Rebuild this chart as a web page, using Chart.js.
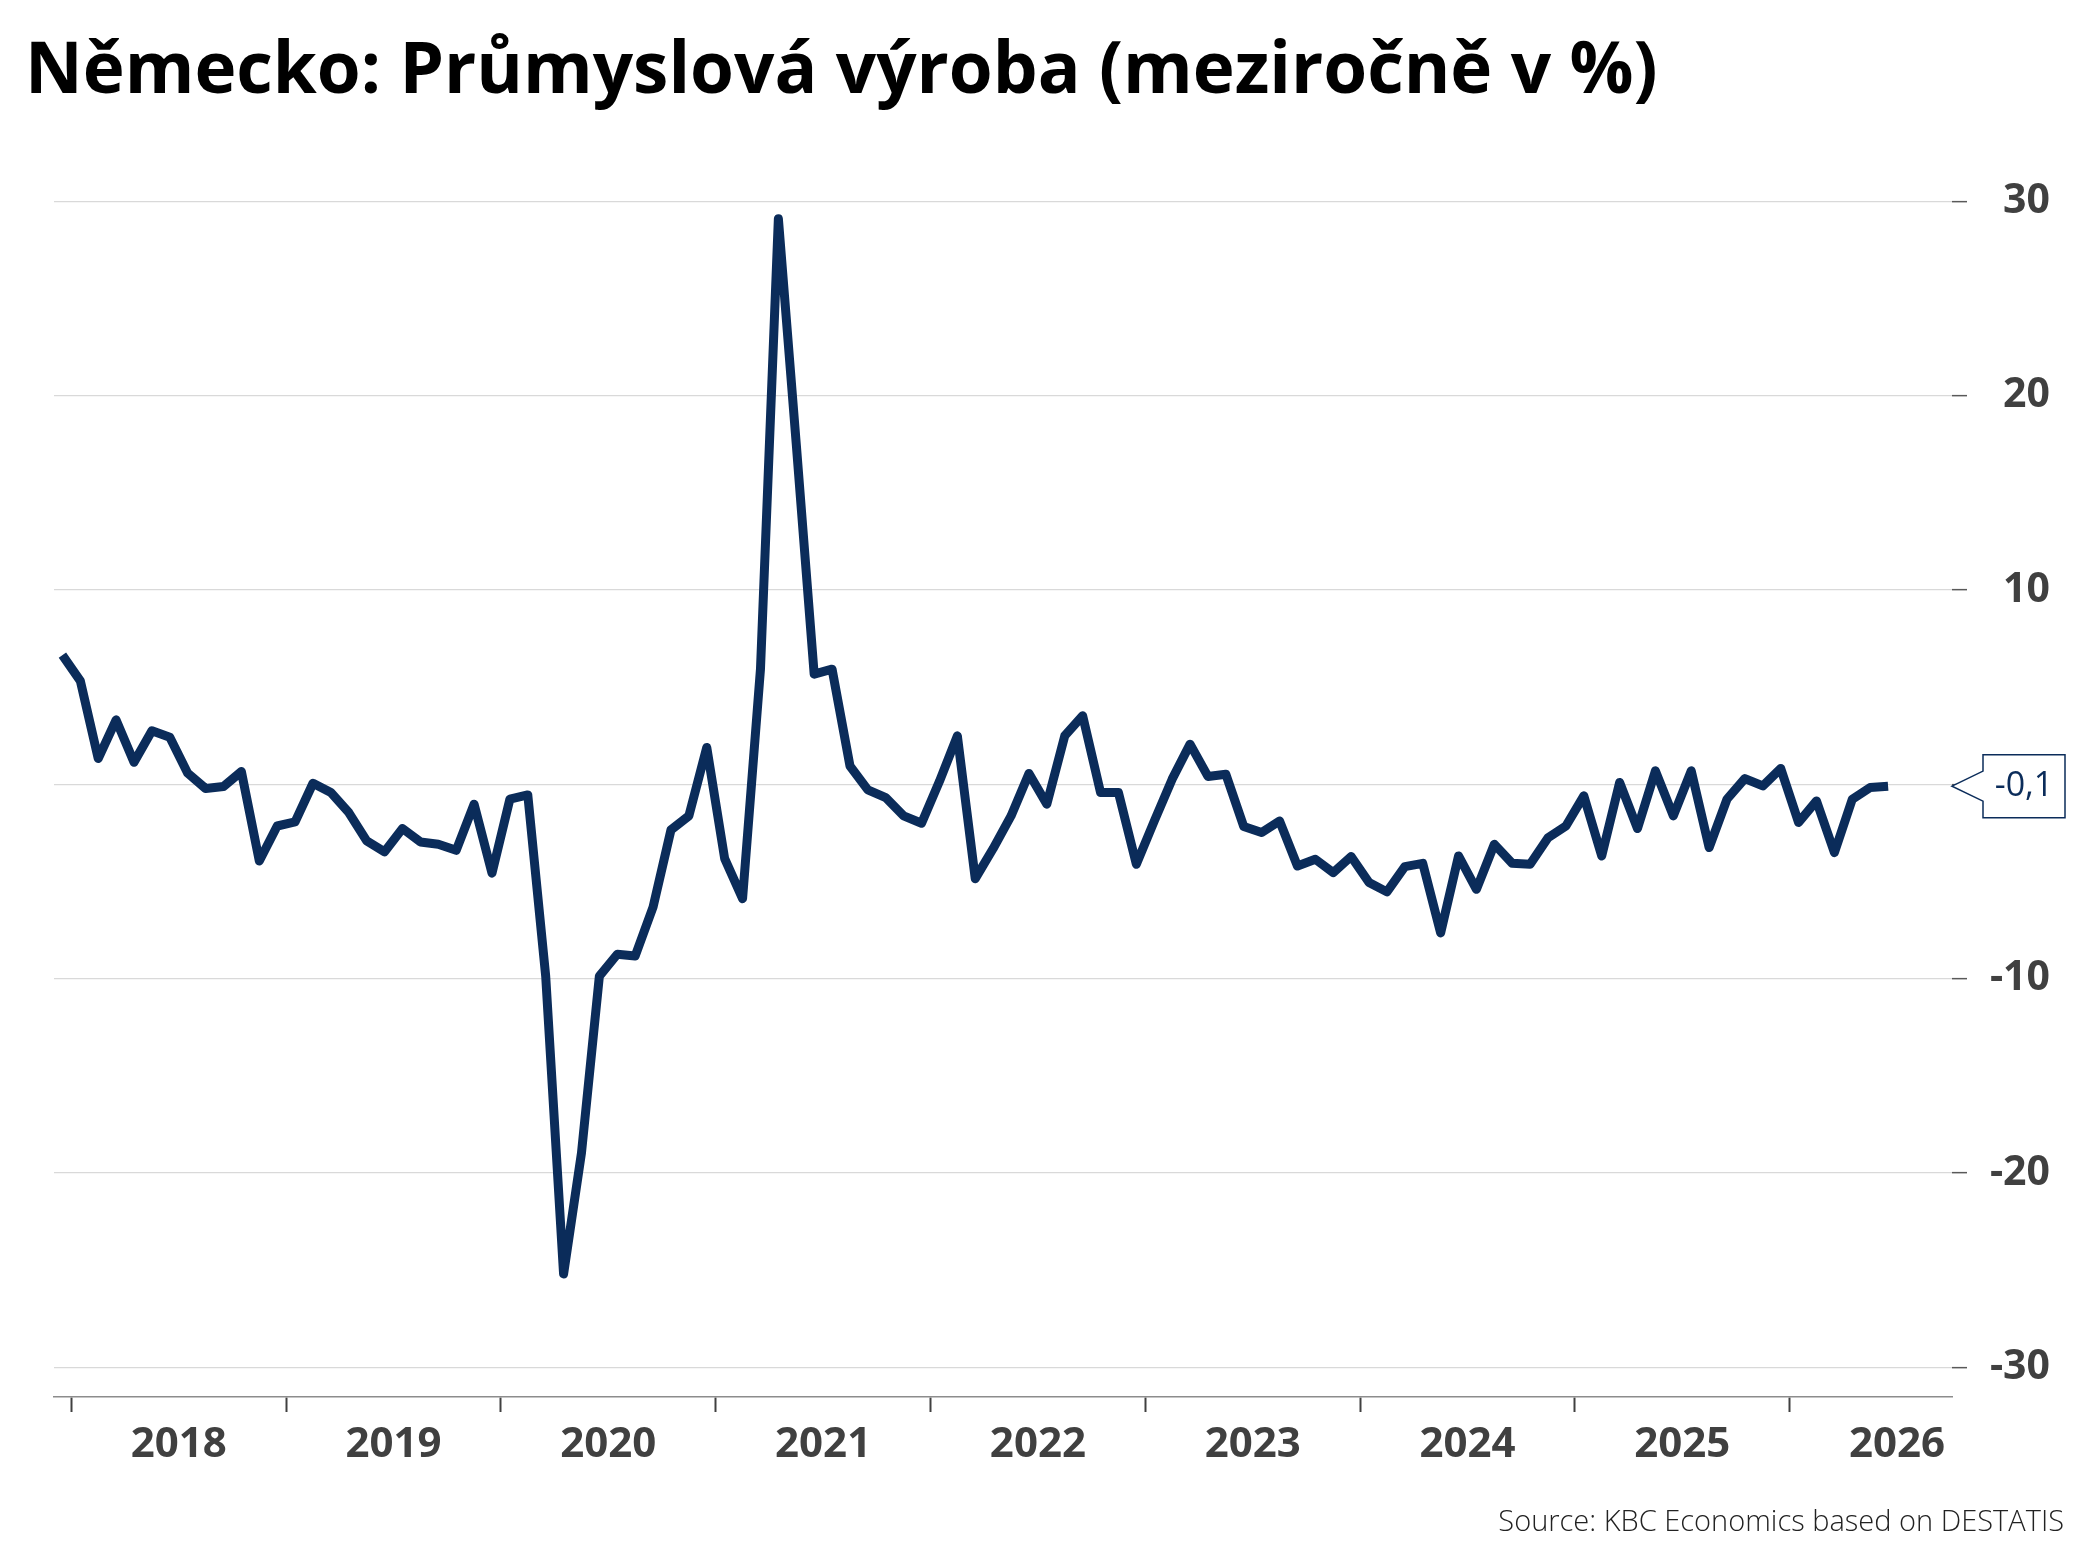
<!DOCTYPE html>
<html>
<head>
<meta charset="utf-8">
<script src="https://cdn.jsdelivr.net/npm/chart.js@4.4.1/dist/chart.umd.min.js"></script>
<style>
  html, body { margin: 0; padding: 0; background: #ffffff; }
  canvas { display: block; }
</style>
</head>
<body>
<canvas id="chart" width="2093" height="1568" style="width:2093px;height:1568px"></canvas>
<script>
// ---------------- data ----------------
const titleText = 'Německo: Průmyslová výroba (meziročně v %)';
const sourceText = 'Source: KBC Economics based on DESTATIS';
const firstYear = 2017;
const firstMonth = 12; // December 2017
const values = [
  6.64, 5.32, 1.32, 3.31, 1.13, 2.75, 2.42, 0.57, -0.22, -0.12, 0.65, -3.95,
  -2.15, -1.94, 0.05, -0.43, -1.46, -2.92, -3.48, -2.28, -2.97, -3.09, -3.40, -1.03,
  -4.58, -0.77, -0.55, -9.87, -25.2, -18.97, -9.87, -8.75, -8.84, -6.32, -2.35, -1.63,
  1.89, -3.83, -5.89, 5.92, 29.1, 17.5, 5.66, 5.92, 0.94, -0.29, -0.69, -1.63,
  -2.01, 0.15, 2.49, -4.86, -3.31, -1.63, 0.55, -1.03, 2.49, 3.52, -0.43, -0.43,
  -4.12, -1.90, 0.26, 2.06, 0.40, 0.51, -2.18, -2.49, -1.89, -4.21, -3.86, -4.55,
  -3.72, -5.06, -5.54, -4.24, -4.07, -7.65, -3.69, -5.41, -3.09, -4.07, -4.12, -2.75,
  -2.15, -0.60, -3.69, 0.09, -2.28, 0.69, -1.63, 0.69, -3.26, -0.77, 0.29, -0.09,
  0.81, -1.97, -0.86, -3.52, -0.77, -0.17, -0.10
];
const yearLabels = ['2018', '2019', '2020', '2021', '2022', '2023', '2024', '2025', '2026'];
const yTickValues = [-30, -20, -10, 0, 10, 20, 30];

// month labels (categories) for each point
const months = values.map((v, i) => {
  const m0 = (firstMonth - 1) + i;
  const y = firstYear + Math.floor(m0 / 12);
  const m = (m0 % 12) + 1;
  return y + '-' + String(m).padStart(2, '0');
});

// year boundaries (between Dec and Jan) and year centres
const yearBoundaries = [];
const yearCentres = [];
yearLabels.forEach(yl => {
  const janIdx = months.indexOf(yl + '-01');
  yearBoundaries.push(janIdx - 0.5);
  yearCentres.push({ value: janIdx + 5.5, label: yl });
});

const points = values.map((v, i) => ({ x: i, y: v }));

// ---------------- styling ----------------
const NAVY = '#0b2c5a';
const LABEL_COLOR = '#404040';

const overlayPlugin = {
  id: 'overlay',
  afterDraw(chart) {
    const ctx = chart.ctx;
    const area = chart.chartArea;
    const yScale = chart.scales.y;
    ctx.save();
    // title
    ctx.fillStyle = '#000000';
    ctx.font = 'bold 71px "Open Sans"';
    ctx.textAlign = 'left';
    ctx.textBaseline = 'alphabetic';
    ctx.fillText(titleText, 25, 93);
    // source
    ctx.fillStyle = '#222222';
    ctx.font = '300 29px "Open Sans"';
    ctx.textAlign = 'right';
    ctx.fillText(sourceText, 2064, 1531);

    // last value callout
    const last = values[values.length - 1];
    const yv = yScale.getPixelForValue(last);
    const tipX = area.right;
    const boxL = tipX + 31, boxW = 82, boxH = 63;
    const boxT = yv - boxH / 2;
    ctx.beginPath();
    ctx.moveTo(tipX, yv);
    ctx.lineTo(boxL, yv - 15);
    ctx.lineTo(boxL, boxT);
    ctx.lineTo(boxL + boxW, boxT);
    ctx.lineTo(boxL + boxW, boxT + boxH);
    ctx.lineTo(boxL, boxT + boxH);
    ctx.lineTo(boxL, yv + 15);
    ctx.closePath();
    ctx.fillStyle = '#ffffff';
    ctx.fill();
    ctx.lineWidth = 1.5;
    ctx.strokeStyle = NAVY;
    ctx.stroke();
    ctx.fillStyle = NAVY;
    ctx.font = '34px "Open Sans"';
    ctx.textAlign = 'center';
    ctx.textBaseline = 'middle';
    ctx.fillText(last.toFixed(1).replace('.', ','), boxL + boxW / 2, yv);
    ctx.restore();
  }
};

new Chart(document.getElementById('chart'), {
  type: 'line',
  data: {
    datasets: [{
      label: 'Průmyslová výroba',
      data: points,
      borderColor: NAVY,
      backgroundColor: NAVY,
      borderWidth: 9,
      pointRadius: 0,
      pointHoverRadius: 0,
      tension: 0,
      borderJoinStyle: 'round',
      borderCapStyle: 'butt',
      clip: false
    }]
  },
  options: {
    responsive: false,
    animation: false,
    devicePixelRatio: 1,
    layout: { padding: { left: 54, top: 172, right: 43, bottom: 0 } },
    plugins: {
      legend: { display: false },
      title: { display: false },
      tooltip: {
        callbacks: {
          title: items => months[items[0].parsed.x]
        }
      }
    },
    scales: {
      x: {
        type: 'linear',
        position: 'bottom',
        min: -0.47,
        max: 105.57,
        afterBuildTicks: scale => {
          const t = yearBoundaries.map(v => ({ value: v }))
            .concat(yearCentres.map(c => ({ value: c.value })));
          t.sort((a, b) => a.value - b.value);
          scale.ticks = t;
        },
        afterFit: scale => { scale.height = 171; },
        border: { display: true, color: '#8c8c8c', width: 1.5 },
        grid: {
          drawOnChartArea: false,
          drawTicks: true,
          tickLength: 15,
          tickWidth: 2,
          tickColor: ctx => (ctx.tick && yearBoundaries.includes(ctx.tick.value)) ? LABEL_COLOR : 'rgba(0,0,0,0)',
          color: 'rgba(0,0,0,0)'
        },
        ticks: {
          autoSkip: false,
          maxRotation: 0,
          minRotation: 0,
          padding: 8,
          color: LABEL_COLOR,
          font: { family: '"Open Sans"', size: 42, weight: 'bold' },
          callback: value => {
            const c = yearCentres.find(yc => yc.value === value);
            return c ? c.label : '';
          }
        }
      },
      y: {
        type: 'linear',
        position: 'right',
        min: -31.53,
        max: 31.5,
        afterBuildTicks: scale => {
          scale.ticks = yTickValues.map(v => ({ value: v }));
        },
        afterFit: scale => { scale.width = 98; },
        border: { display: false },
        grid: {
          color: '#d9d9d9',
          lineWidth: 1.3,
          drawTicks: true,
          tickLength: 15,
          tickWidth: 1.5,
          tickColor: '#595959'
        },
        ticks: {
          padding: 12,
          crossAlign: 'far',
          color: LABEL_COLOR,
          font: { family: '"Open Sans"', size: 41, weight: 'bold' },
          callback: value => String(value)
        }
      }
    }
  },
  plugins: [overlayPlugin]
});
</script>
</body>
</html>
